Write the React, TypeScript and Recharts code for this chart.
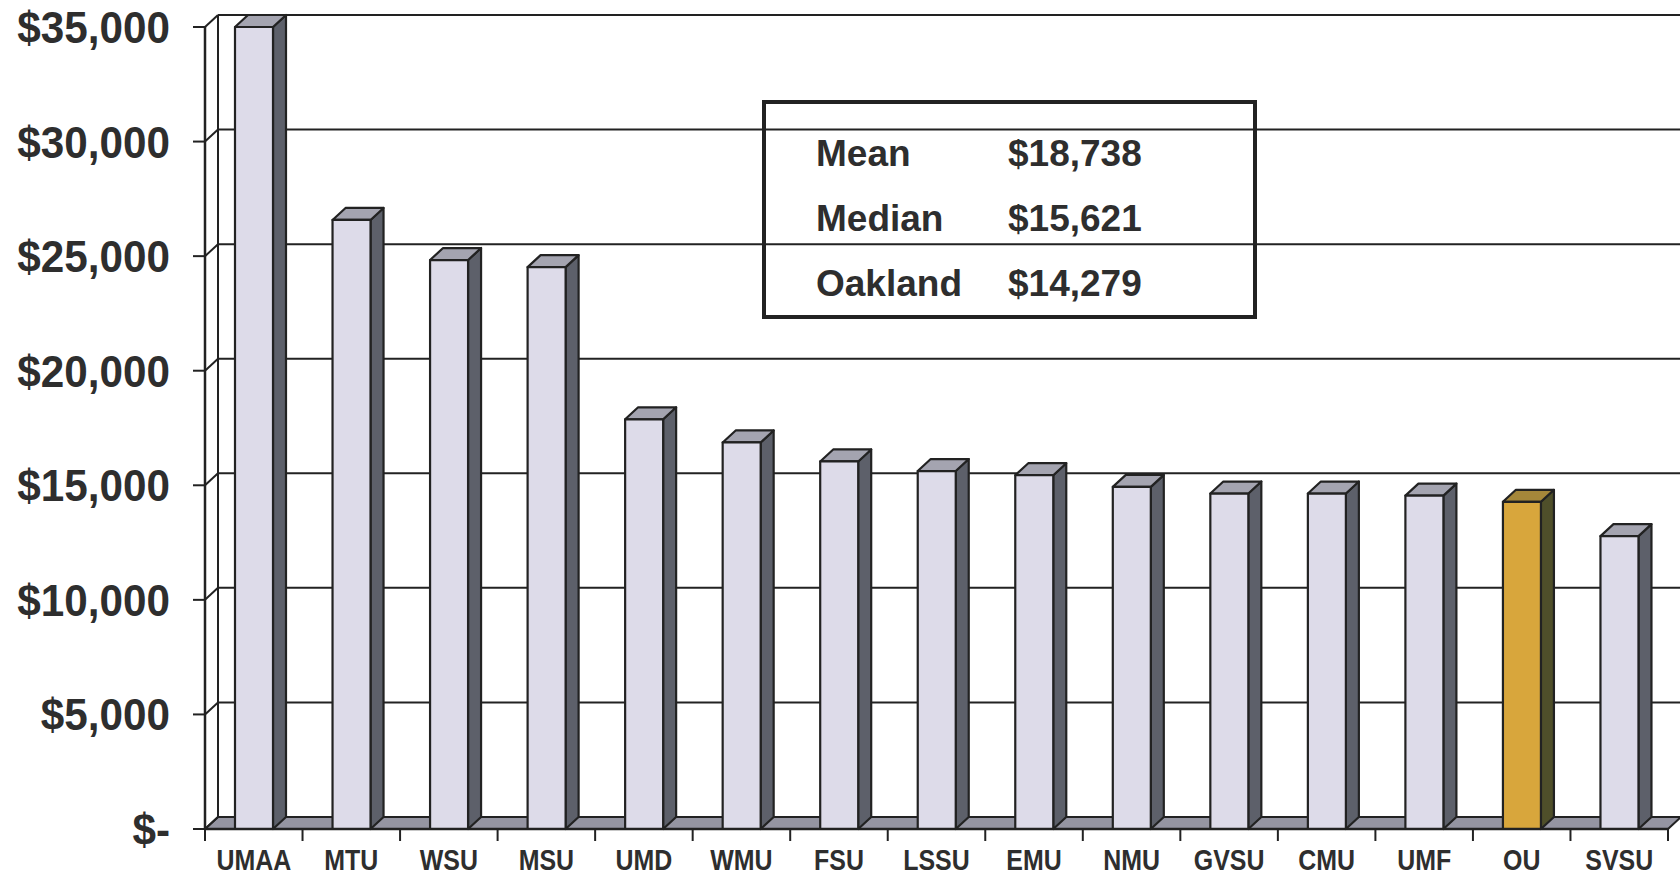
import { BarChart, Bar, XAxis, YAxis, CartesianGrid } from "recharts";

// institutions, sorted as in the source chart
const schools = ["UMAA", "MTU", "WSU", "MSU", "UMD", "WMU", "FSU", "LSSU", "EMU", "NMU", "GVSU", "CMU", "UMF", "OU", "SVSU"];
const costs = [35000, 26580, 24830, 24520, 17880, 16870, 16040, 15621, 15440, 14930, 14640, 14640, 14550, 14279, 12780];
const highlight = "OU";

const yTicks = [0, 5000, 10000, 15000, 20000, 25000, 30000, 35000];

const statLabels = ["Mean", "Median", "Oakland"];
const statValues = ["$18,738", "$15,621", "$14,279"];

const W = 1680;
const H = 877;
const PLOT_LEFT = 205;
const PLOT_RIGHT = 1668;
const PLOT_TOP = 27;
const AXIS_Y = 829;
const BAND = (PLOT_RIGHT - PLOT_LEFT) / schools.length;
const DX = 13; // depth offset of the 3d look
const DY = 12;
const INK = "#222";
const TEXT = "#2e2e2e";
const FONT = "'Liberation Sans', Arial, sans-serif";

const data = schools.map((name, i) => ({ name, cost: costs[i] }));

const fmt = (v: number) => (v === 0 ? "$-" : "$" + v.toLocaleString("en-US"));

function Bar3D(props: any) {
  const { x, y, width, height, payload } = props;
  if (height == null || height <= 0) return null;
  const gold = payload.name === highlight;
  const front = gold ? "#d8a63c" : "#dddbe9";
  const side = gold ? "#4f4f2a" : "#5d606a";
  const top = gold ? "#a5873a" : "#a4a4b0";
  const r = x + width;
  const b = y + height;
  return (
    <g stroke={INK} strokeWidth={2.2} strokeLinejoin="round">
      <polygon points={`${r},${y} ${r + DX},${y - DY} ${r + DX},${b - DY} ${r},${b}`} fill={side} />
      <polygon points={`${x},${y} ${x + DX},${y - DY} ${r + DX},${y - DY} ${r},${y}`} fill={top} />
      <rect x={x} y={y} width={width} height={height} fill={front} />
    </g>
  );
}

function WallLine(p: any) {
  const y = p.y1;
  const bottom = p.y + p.height;
  const isBottom = Math.abs(y - bottom) < 1;
  const isTop = Math.abs(y - p.y) < 1;
  return (
    <g key={p.key}>
      {isBottom && (
        <polygon
          points={`${p.x1},${y} ${p.x2},${y} ${p.x2 + DX},${y - DY} ${p.x1 + DX},${y - DY}`}
          fill="#9595a2"
          stroke={INK}
          strokeWidth={2}
        />
      )}
      {isTop && (
        <line x1={p.x1 + DX} y1={y - DY} x2={p.x1 + DX} y2={bottom - DY} stroke={INK} strokeWidth={2} />
      )}
      <line x1={p.x1 + DX} y1={y - DY} x2={W} y2={y - DY} stroke={INK} strokeWidth={2} />
    </g>
  );
}

function YTick(props: any) {
  const { y, payload } = props;
  return (
    <g>
      <line x1={PLOT_LEFT} y1={y} x2={PLOT_LEFT + DX} y2={y - DY} stroke={INK} strokeWidth={2} />
      <text
        transform={`translate(170,${y + 16}) scale(0.96,1.02)`}
        textAnchor="end"
        fontSize={44}
        fontWeight="bold"
        fontFamily={FONT}
        fill={TEXT}
      >
        {fmt(payload.value)}
      </text>
    </g>
  );
}

function XTick(props: any) {
  const { x, payload, index } = props;
  const last = index === schools.length - 1;
  return (
    <g>
      <line x1={x - BAND / 2} y1={AXIS_Y} x2={x - BAND / 2} y2={AXIS_Y + 12} stroke={INK} strokeWidth={2} />
      {last && <line x1={x + BAND / 2} y1={AXIS_Y} x2={x + BAND / 2} y2={AXIS_Y + 12} stroke={INK} strokeWidth={2} />}
      <text
        transform={`translate(${x},870) scale(0.86,1)`}
        textAnchor="middle"
        fontSize={29}
        fontWeight="bold"
        fontFamily={FONT}
        fill={TEXT}
      >
        {payload.value}
      </text>
    </g>
  );
}

export default function App() {
  return (
    <div style={{ position: "absolute", left: 0, top: 0, width: W, height: H, overflow: "hidden", background: "#fff" }}>
      <BarChart
        width={W}
        height={H}
        data={data}
        margin={{ top: PLOT_TOP, right: W - PLOT_RIGHT, bottom: 0, left: 0 }}
        barSize={38}
      >
        <CartesianGrid vertical={false} horizontal={WallLine} />
        <XAxis
          dataKey="name"
          height={H - AXIS_Y}
          tickLine={false}
          axisLine={{ stroke: INK, strokeWidth: 2.5 }}
          tick={<XTick />}
          interval={0}
        />
        <YAxis
          width={PLOT_LEFT}
          domain={[0, 35000]}
          ticks={yTicks}
          interval={0}
          tickSize={12}
          tickLine={{ stroke: INK, strokeWidth: 2 }}
          axisLine={{ stroke: INK, strokeWidth: 2.5 }}
          tick={<YTick />}
        />
        <Bar dataKey="cost" shape={<Bar3D />} isAnimationActive={false} />
      </BarChart>

      {/* summary box */}
      <div
        style={{
          position: "absolute",
          left: 762,
          top: 100,
          width: 487,
          height: 211,
          border: `4px solid ${INK}`,
          fontFamily: FONT,
          fontWeight: "bold",
          fontSize: 37,
          color: TEXT,
        }}
      >
        {statLabels.map((l, i) => (
          <div key={l} style={{ position: "absolute", top: 30 + i * 65, left: 50, lineHeight: "40px", whiteSpace: "nowrap" }}>
            <span style={{ display: "inline-block", width: 192 }}>{l}</span>
            <span>{statValues[i]}</span>
          </div>
        ))}
      </div>
    </div>
  );
}
